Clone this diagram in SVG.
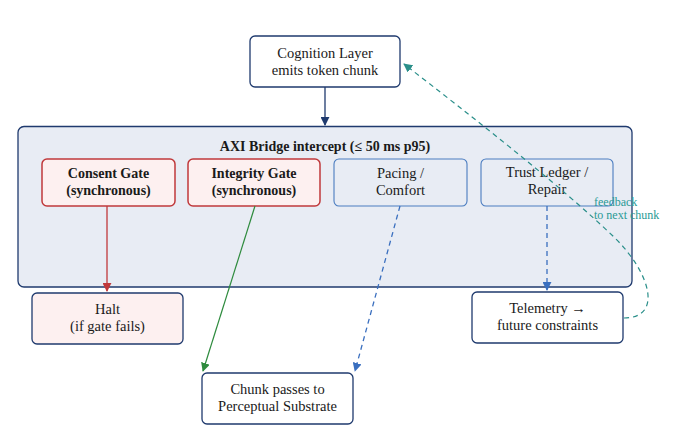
<svg xmlns="http://www.w3.org/2000/svg" width="690" height="432" viewBox="0 0 690 432">
<style>
text{font-family:"Liberation Serif","DejaVu Serif",serif;font-size:14.5px;fill:#1a1a1a;text-anchor:middle}
.b{font-weight:bold;font-size:14px}
.nav{fill:#fff;stroke:#1f3a6e;stroke-width:1.3}
.gate{fill:#fdf0f0;stroke:#c0393b;stroke-width:1.5}
.soft{fill:#e8ecf4;stroke:#4a7cc0;stroke-width:1.1}
.fb{font-size:12px;fill:#2a9a94;text-anchor:start}
</style>
<defs>
<marker id="mN" viewBox="0 0 10 10" refX="9" refY="5" markerWidth="9" markerHeight="9" markerUnits="userSpaceOnUse" orient="auto"><path d="M0,0L10,5L0,10z" fill="#1f3a6e"/></marker>
<marker id="mR" viewBox="0 0 10 10" refX="9" refY="5" markerWidth="9" markerHeight="9" markerUnits="userSpaceOnUse" orient="auto"><path d="M0,0L10,5L0,10z" fill="#c0393b"/></marker>
<marker id="mG" viewBox="0 0 10 10" refX="9" refY="5" markerWidth="9" markerHeight="9" markerUnits="userSpaceOnUse" orient="auto"><path d="M0,0L10,5L0,10z" fill="#2e8b3e"/></marker>
<marker id="mB" viewBox="0 0 10 10" refX="9" refY="5" markerWidth="9" markerHeight="9" markerUnits="userSpaceOnUse" orient="auto"><path d="M0,0L10,5L0,10z" fill="#3a6fbf"/></marker>
<marker id="mT" viewBox="0 0 10 10" refX="9" refY="5" markerWidth="9" markerHeight="9" markerUnits="userSpaceOnUse" orient="auto"><path d="M0,0L10,5L0,10z" fill="#2a8f8a"/></marker>
</defs>
<g id="bridge">
<rect x="18" y="126.5" width="614" height="160.5" rx="6" fill="#e8ecf4" stroke="#1f3a6e" stroke-width="1.3"/>
<text class="b" x="325" y="151">AXI Bridge intercept (≤ 50 ms p95)</text>
</g>
<g id="cognition"><rect class="nav" x="250" y="36" width="150" height="51" rx="5"/><text x="325" y="58">Cognition Layer</text><text x="325" y="75">emits token chunk</text></g>
<g id="consent"><rect class="gate" x="42" y="159" width="133" height="47" rx="5"/><text class="b" x="108.5" y="178">Consent Gate</text><text class="b" x="108.5" y="195">(synchronous)</text></g>
<g id="integrity"><rect class="gate" x="188" y="159" width="132" height="47" rx="5"/><text class="b" x="254" y="178">Integrity Gate</text><text class="b" x="254" y="195">(synchronous)</text></g>
<g id="pacing"><rect class="soft" x="334" y="159" width="133" height="47" rx="5"/><text x="400.5" y="178">Pacing /</text><text x="400.5" y="195">Comfort</text></g>
<g id="trust"><rect class="soft" x="481" y="159" width="132" height="47" rx="5"/><text x="547" y="177">Trust Ledger /</text><text x="547" y="194">Repair</text></g>
<g id="halt"><rect x="32" y="293" width="151" height="51" rx="5" fill="#fdf0f0" stroke="#1f3a6e" stroke-width="1.3"/><text x="107.5" y="314">Halt</text><text x="107.5" y="331">(if gate fails)</text></g>
<g id="chunk"><rect class="nav" x="202" y="373" width="151" height="51" rx="5"/><text x="277.5" y="394">Chunk passes to</text><text x="277.5" y="411">Perceptual Substrate</text></g>
<g id="telemetry"><rect class="nav" x="472" y="292" width="151" height="51" rx="5"/><text x="547.5" y="313">Telemetry →</text><text x="547.5" y="330">future constraints</text></g>
<g id="connectors" fill="none">
<line x1="325" y1="87" x2="325" y2="125" stroke="#1f3a6e" stroke-width="1.3" marker-end="url(#mN)"/>
<line x1="107" y1="206" x2="107" y2="291" stroke="#c0393b" stroke-width="1.3" marker-end="url(#mR)"/>
<line x1="255" y1="206" x2="203" y2="371" stroke="#2e8b3e" stroke-width="1.2" marker-end="url(#mG)"/>
<line x1="400" y1="206" x2="355" y2="371" stroke="#3a6fbf" stroke-width="1.3" stroke-dasharray="5,4" marker-end="url(#mB)"/>
<line x1="547" y1="206" x2="547" y2="290" stroke="#3a6fbf" stroke-width="1.3" stroke-dasharray="5,4" marker-end="url(#mB)"/>
<path d="M624,318 C662,318 652,275 615,238 C560,185 470,115 404,64" stroke="#2a8f8a" stroke-width="1.2" stroke-dasharray="5,4" marker-end="url(#mT)"/>
<text class="fb" x="594" y="206">feedback</text>
<text class="fb" x="594" y="219">to next chunk</text>
</g>
</svg>
